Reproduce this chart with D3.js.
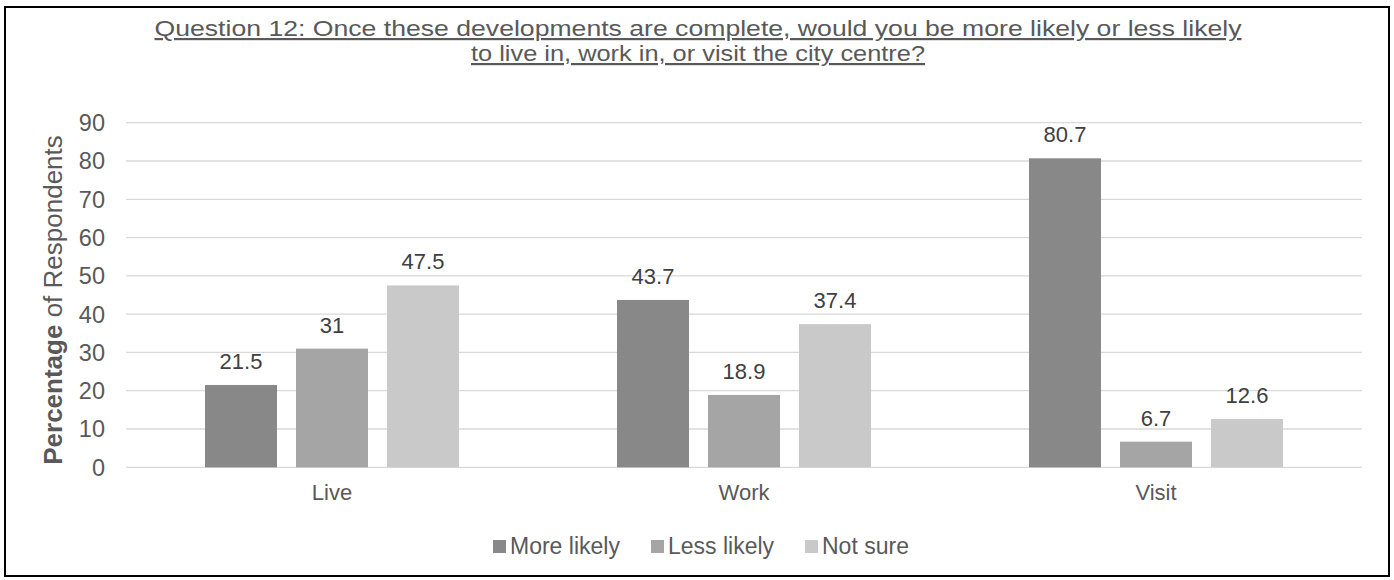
<!DOCTYPE html>
<html><head><meta charset="utf-8">
<script src="https://cdn.jsdelivr.net/npm/d3@7"></script>
<style>body{margin:0;background:#fff}svg{display:block}text{font-family:"Liberation Sans",Arial,sans-serif}</style>
</head><body>
<svg id="c" width="1394" height="580"></svg>
<script>
const categories = ["Live", "Work", "Visit"];
const seriesNames = ["More likely", "Less likely", "Not sure"];
const moreLikely = [21.5, 43.7, 80.7];
const lessLikely = [31, 18.9, 6.7];
const notSure = [47.5, 37.4, 12.6];
const yTicks = [0, 10, 20, 30, 40, 50, 60, 70, 80, 90];
const titleLines = ["Question 12: Once these developments are complete, would you be more likely or less likely", "to live in, work in, or visit the city centre?"];

(function () {
const seriesValues = [moreLikely, lessLikely, notSure];
const colors = ["#888888", "#a5a5a5", "#c9c9c9"];

const svg = d3.select("#c");
svg.append("rect").attr("x", 5).attr("y", 7).attr("width", 1384).attr("height", 569)
  .attr("fill", "#fff").attr("stroke", "#000").attr("stroke-width", 2);

const pLeft = 126, pRight = 1362, pTop = 122.7, pBottom = 467.3;
const x0 = d3.scaleBand().domain(categories).range([pLeft, pRight]).padding(0);
const x1 = d3.scaleBand().domain(seriesNames).range([0, x0.bandwidth()]).paddingInner(0.209).paddingOuter(0.868);
const y = d3.scaleLinear().domain([0, 90]).range([pBottom, pTop]);

svg.append("g").selectAll("line").data(yTicks).join("line")
  .attr("x1", pLeft).attr("x2", pRight)
  .attr("y1", d => y(d)).attr("y2", d => y(d))
  .attr("stroke", "#d9d9d9").attr("stroke-width", 1.3);

svg.append("g").selectAll("text").data(yTicks).join("text")
  .attr("x", 105).attr("y", d => y(d)).attr("dy", "0.36em")
  .attr("text-anchor", "end").attr("font-size", 23.5).attr("fill", "#595959")
  .text(d => d);

const groups = svg.append("g").selectAll("g").data(categories).join("g")
  .attr("transform", d => `translate(${x0(d)},0)`);
const rows = (c, i) => seriesNames.map((s, j) => ({s, j, v: seriesValues[j][i]}));
groups.selectAll("rect").data(rows).join("rect")
  .attr("x", d => x1(d.s)).attr("width", x1.bandwidth())
  .attr("y", d => y(d.v)).attr("height", d => y(0) - y(d.v))
  .attr("fill", d => colors[d.j]);
groups.selectAll("text").data(rows).join("text")
  .attr("x", d => x1(d.s) + x1.bandwidth() / 2).attr("y", d => y(d.v) - 16)
  .attr("text-anchor", "middle").attr("font-size", 22).attr("fill", "#404040")
  .text(d => d.v);

svg.append("g").selectAll("text").data(categories).join("text")
  .attr("x", d => x0(d) + x0.bandwidth() / 2).attr("y", 500)
  .attr("text-anchor", "middle").attr("font-size", 22).attr("fill", "#595959")
  .text(d => d);

svg.append("g").selectAll("text").data(titleLines).join("text")
  .attr("x", 698).attr("y", (d, i) => 36 + i * 25)
  .attr("text-anchor", "middle").attr("font-size", 22).attr("fill", "#595959")
  .attr("text-decoration", "underline")
  .attr("textLength", (d, i) => i === 0 ? 1087 : 454).attr("lengthAdjust", "spacingAndGlyphs")
  .text(d => d);

const yt = svg.append("text").attr("transform", `translate(62,${(pTop + pBottom) / 2 + 5}) rotate(-90)`)
  .attr("text-anchor", "middle").attr("font-size", 26).attr("fill", "#595959");
yt.append("tspan").attr("font-weight", "bold").text("Percentage");
yt.append("tspan").text(" of Respondents");

const legendX = [493, 651, 805];
const lg = svg.append("g").selectAll("g").data(seriesNames).join("g")
  .attr("transform", (d, i) => `translate(${legendX[i]},554)`);
lg.append("rect").attr("x", 0).attr("y", -14).attr("width", 13).attr("height", 13).attr("fill", (d, i) => colors[i]);
lg.append("text").attr("x", 17).attr("y", 0).attr("font-size", 23).attr("fill", "#595959").text(d => d);
})();
</script>
</body></html>
